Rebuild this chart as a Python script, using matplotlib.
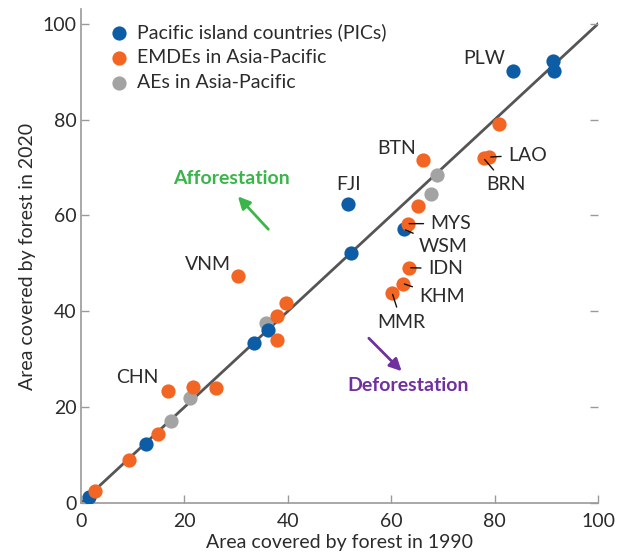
import matplotlib
matplotlib.use("Agg")
import matplotlib.pyplot as plt

plt.rcParams['font.family'] = ['Lato', 'DejaVu Sans']

# forest cover, % of land area: 1990 vs 2020
pic_1990 = [1.5, 12.5, 33.4, 36.2, 52.3, 51.7, 62.5, 83.6, 91.3, 91.4]
pic_2020 = [1.3, 12.3, 33.3, 36.1, 52.2, 62.4, 57.1, 90.1, 92.2, 90.1]
pic_lab = ['', '', '', '', '', 'FJI', 'WSM', 'PLW', '', '']

emde_1990 = [2.8, 9.3, 14.9, 16.9, 21.7, 26.2, 30.3, 38.0, 38.0, 39.7,
             60.2, 62.3, 63.5, 63.2, 65.1, 66.2, 77.9, 79.0, 80.9]
emde_2020 = [2.5, 9.0, 14.3, 23.3, 24.2, 24.1, 47.4, 34.1, 39.0, 41.7,
             43.8, 45.8, 49.1, 58.3, 61.9, 71.5, 71.9, 72.2, 79.2]
emde_lab = ['', '', '', 'CHN', '', '', 'VNM', '', '', '',
            'MMR', 'KHM', 'IDN', 'MYS', '', 'BTN', 'BRN', 'LAO', '']

ae_1990 = [17.5, 21.0, 35.7, 67.7, 68.9]
ae_2020 = [17.2, 21.9, 37.6, 64.5, 68.4]

# label placement (text position, alignment, whether a leader line is drawn)
label_pos = {
    'PLW': (82.0, 92.8, 'right', False),
    'FJI': (51.8, 66.5, 'center', False),
    'BTN': (61.0, 74.0, 'center', False),
    'VNM': (29.0, 49.8, 'right', False),
    'CHN': (15.0, 26.1, 'right', False),
    'LAO': (82.6, 72.6, 'left', True),
    'BRN': (82.2, 66.5, 'center', True),
    'MYS': (67.6, 58.3, 'left', True),
    'WSM': (65.4, 53.6, 'left', True),
    'IDN': (67.1, 48.9, 'left', True),
    'KHM': (65.4, 43.0, 'left', True),
    'MMR': (62.0, 37.7, 'center', True),
}

blue = '#0c5da5'
orange = '#f26522'
grey = '#a3a3a3'
txt = '#2b2b2b'
fs = 14

fig = plt.figure(figsize=(6.2, 5.57), dpi=100)
ax = fig.add_axes([0.1306, 0.097, 0.8339, 0.886])

ax.plot([0, 100], [0, 100], color='#555555', lw=2, zorder=1)

ax.scatter(pic_1990, pic_2020, s=105, color=blue, zorder=3,
           label='Pacific island countries (PICs)', linewidths=0)
ax.scatter(emde_1990, emde_2020, s=105, color=orange, zorder=4,
           label='EMDEs in Asia-Pacific', linewidths=0)
ax.scatter(ae_1990, ae_2020, s=105, color=grey, zorder=2,
           label='AEs in Asia-Pacific', linewidths=0)

for xs, ys, labs in [(pic_1990, pic_2020, pic_lab), (emde_1990, emde_2020, emde_lab)]:
    for x, y, lab in zip(xs, ys, labs):
        if not lab:
            continue
        tx, ty, ha, leader = label_pos[lab]
        arrow = None
        if leader:
            arrow = dict(arrowstyle='-', color='#111111', lw=1,
                         shrinkA=3, shrinkB=1)
        ax.annotate(lab, xy=(x, y), xytext=(tx, ty), ha=ha, va='center',
                    fontsize=fs, color=txt, arrowprops=arrow, zorder=5)

# afforestation / deforestation hints
ax.annotate('', xy=(30.0, 64.4), xytext=(36.6, 56.7),
            arrowprops=dict(arrowstyle='-|>', color='#39b54a', lw=2,
                            mutation_scale=18))
ax.text(29.1, 67.7, 'Afforestation', color='#39b54a', fontsize=14,
        fontweight='bold', ha='center', va='center')
ax.annotate('', xy=(62.4, 27.1), xytext=(55.3, 34.8),
            arrowprops=dict(arrowstyle='-|>', color='#7030a0', lw=2,
                            mutation_scale=18))
ax.text(63.3, 24.5, 'Deforestation', color='#7030a0', fontsize=14,
        fontweight='bold', ha='center', va='center')

ax.set_xlim(0, 100)
ax.set_ylim(0, 103)
ax.set_xticks(range(0, 101, 20))
ax.set_yticks(range(0, 101, 20))
ax.spines['top'].set_visible(False)
ax.spines['right'].set_visible(False)
for s in ['left', 'bottom']:
    ax.spines[s].set_color('#9a9a9a')
    ax.spines[s].set_linewidth(1.2)
ax.tick_params(direction='in', length=6, width=1, color='#9a9a9a',
               labelsize=fs, labelcolor=txt, right=True)
ax.tick_params(axis='x', pad=7)
ax.tick_params(axis='y', pad=3)

ax.set_xlabel('Area covered by forest in 1990', fontsize=fs, color=txt, labelpad=3)
ax.set_ylabel('Area covered by forest in 2020', fontsize=fs, color=txt, labelpad=5)

leg = ax.legend(loc='upper left', frameon=False, fontsize=fs, handletextpad=0.15,
                borderaxespad=0.3, labelspacing=0.42, handlelength=1.6,
                bbox_to_anchor=(0.017, 1.0))
for t in leg.get_texts():
    t.set_color(txt)

fig.savefig('out.png', dpi=100)
